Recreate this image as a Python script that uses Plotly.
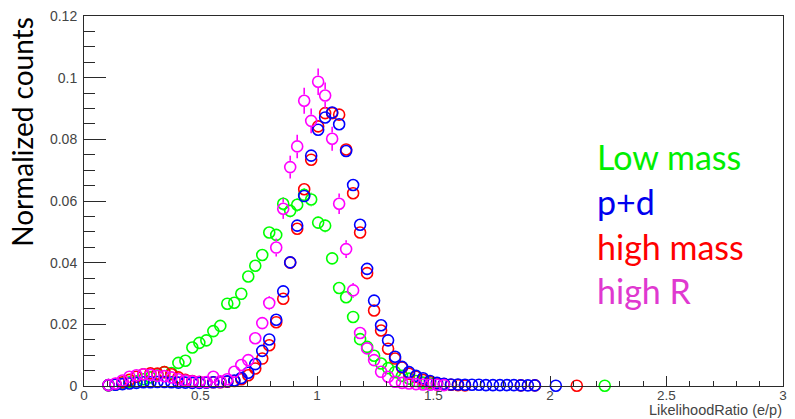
import plotly.graph_objects as go

# ---------------- data ----------------
x_bins = [0.105, 0.135, 0.165, 0.195, 0.225, 0.255, 0.285, 0.315, 0.345, 0.375,
          0.405, 0.435, 0.465, 0.495, 0.525, 0.555, 0.585, 0.615, 0.645, 0.675,
          0.705, 0.735, 0.765, 0.795, 0.825, 0.855, 0.885, 0.915, 0.945, 0.975,
          1.005, 1.035, 1.065, 1.095, 1.125, 1.155, 1.185, 1.215, 1.245, 1.275,
          1.305, 1.335, 1.365, 1.395, 1.425, 1.455, 1.485, 1.515, 1.545]

low_mass_x = x_bins + [2.235]
low_mass_y = [0.0002, 0.0005, 0.0008, 0.0012, 0.0015, 0.0022, 0.0028, 0.0035, 0.0045, 0.0042,
              0.0075, 0.0082, 0.0125, 0.0140, 0.0148, 0.0178, 0.0195, 0.0267, 0.0270, 0.0299,
              0.0355, 0.0390, 0.0425, 0.0498, 0.0490, 0.0591, 0.0568, 0.0588, 0.0620, 0.0605,
              0.0530, 0.0520, 0.0414, 0.0318, 0.0288, 0.0224, 0.0152, 0.0127, 0.0098, 0.0073,
              0.0058, 0.0045, 0.0033, 0.0024, 0.0016, 0.0011, 0.0008, 0.0006, 0.0004,
              0.0001]
low_mass_err = [0.0001, 0.0002, 0.0003, 0.0003, 0.0004, 0.0004, 0.0005, 0.0005, 0.0006, 0.0006,
                0.0008, 0.0008, 0.0010, 0.0011, 0.0011, 0.0012, 0.0013, 0.0015, 0.0015, 0.0016,
                0.0017, 0.0018, 0.0019, 0.0020, 0.0020, 0.0022, 0.0021, 0.0022, 0.0022, 0.0022,
                0.0021, 0.0021, 0.0018, 0.0016, 0.0015, 0.0013, 0.0011, 0.0010, 0.0009, 0.0008,
                0.0007, 0.0006, 0.0005, 0.0004, 0.0004, 0.0003, 0.0003, 0.0002, 0.0002,
                0.0001]

pd_x = x_bins + [1.575, 1.605, 1.635, 1.665, 1.695, 1.725, 1.755, 1.785, 1.815, 1.845,
                 1.875, 1.905, 1.935, 2.025]
pd_y = [0.0003, 0.0004, 0.0006, 0.0008, 0.0010, 0.0012, 0.0012, 0.0013, 0.0013, 0.0012,
        0.0011, 0.0011, 0.0010, 0.0010, 0.0011, 0.0012, 0.0013, 0.0015, 0.0018, 0.0026,
        0.0043, 0.0071, 0.0114, 0.0151, 0.0215, 0.0307, 0.0401, 0.0520, 0.0616, 0.0747,
        0.0831, 0.0871, 0.0887, 0.0849, 0.0762, 0.0652, 0.0523, 0.0380, 0.0277, 0.0197,
        0.0148, 0.0095, 0.0062, 0.0045, 0.0033, 0.0025, 0.0016, 0.0010, 0.0007,
        0.0005, 0.0005, 0.0004, 0.0004, 0.0004, 0.0003, 0.0003, 0.0003, 0.0003, 0.0003,
        0.0002, 0.0002, 0.0002, 0.0001]

high_mass_x = x_bins + [1.575, 1.605, 1.635, 1.875, 1.935, 2.115]
high_mass_y = [0.0003, 0.0006, 0.0012, 0.0020, 0.0030, 0.0038, 0.0041, 0.0040, 0.0045, 0.0038,
               0.0028, 0.0020, 0.0016, 0.0013, 0.0012, 0.0012, 0.0012, 0.0014, 0.0016, 0.0022,
               0.0035, 0.0057, 0.0089, 0.0132, 0.0207, 0.0283, 0.0400, 0.0510, 0.0638, 0.0734,
               0.0842, 0.0885, 0.0885, 0.0880, 0.0767, 0.0625, 0.0498, 0.0366, 0.0245, 0.0180,
               0.0121, 0.0089, 0.0060, 0.0040, 0.0030, 0.0020, 0.0013, 0.0009, 0.0006,
               0.0004, 0.0003, 0.0002, 0.0002, 0.0002, 0.0001]

high_r_x = x_bins
high_r_y = [0.0003, 0.0008, 0.0018, 0.0030, 0.0035, 0.0038, 0.0036, 0.0033, 0.0032, 0.0028,
            0.0022, 0.0018, 0.0015, 0.0014, 0.0013, 0.0030, 0.0015, 0.0022, 0.0046, 0.0068,
            0.0084, 0.0155, 0.0204, 0.0269, 0.0449, 0.0575, 0.0710, 0.0777, 0.0925, 0.0860,
            0.0987, 0.0942, 0.0802, 0.0591, 0.0444, 0.0310, 0.0172, 0.0122, 0.0084, 0.0046,
            0.0030, 0.0014, 0.0010, 0.0008, 0.0006, 0.0005, 0.0004, 0.0004, 0.0003]
high_r_err = [0.0002, 0.0004, 0.0006, 0.0008, 0.0008, 0.0008, 0.0008, 0.0008, 0.0008, 0.0007,
              0.0006, 0.0006, 0.0005, 0.0005, 0.0005, 0.0008, 0.0005, 0.0006, 0.0009, 0.0011,
              0.0013, 0.0017, 0.0020, 0.0023, 0.0029, 0.0033, 0.0037, 0.0038, 0.0042, 0.0040,
              0.0043, 0.0042, 0.0039, 0.0033, 0.0029, 0.0024, 0.0018, 0.0015, 0.0013, 0.0009,
              0.0008, 0.0005, 0.0004, 0.0004, 0.0003, 0.0003, 0.0003, 0.0003, 0.0002]

x_tickvals = [0, 0.5, 1, 1.5, 2, 2.5, 3]
x_ticktext = ["0", "0.5", "1", "1.5", "2", "2.5", "3"]
y_tickvals = [0, 0.02, 0.04, 0.06, 0.08, 0.1, 0.12]
y_ticktext = ["0", "0.02", "0.04", "0.06", "0.08", "0.1", "0.12"]

legend_names = ["Low mass", "p+d", "high mass", "high R"]

# ---------------- style ----------------
W, H = 795, 419
M = dict(l=84, r=8, t=14, b=33)
PLOT_H = H - M["t"] - M["b"]
PLOT_W = W - M["l"] - M["r"]
Y_MAX = 0.12
MSIZE = 11
MLINE = 1.6
GREEN, BLUE, RED, MAGENTA = "#00ff00", "#0000ff", "#ff0000", "#ff00ff"
AXIS_COL = "#2a2a2a"
TICKFONT_Y = dict(family="Liberation Sans, Arial, sans-serif", size=14, color="#444444")
TICKFONT_X = dict(family="Liberation Sans, Arial, sans-serif", size=13.5, color="#444444")

fig = go.Figure()


def err_segments(xs, ys, es):
    """ROOT-style error bars: drawn only outside the hollow marker."""
    r = (MSIZE / 2 + MLINE / 2) / PLOT_H * Y_MAX
    sx, sy = [], []
    for x, y, e in zip(xs, ys, es):
        if e > r:
            sx += [x, x, None, x, x, None]
            sy += [y + r, y + e, None, y - r, y - e, None]
    return sx, sy


def add_series(xs, ys, color, errs=None):
    if errs is not None:
        sx, sy = err_segments(xs, ys, errs)
        fig.add_trace(go.Scatter(x=sx, y=sy, mode="lines", line=dict(color=color, width=1.6),
                                 hoverinfo="skip", showlegend=False, cliponaxis=False))
    fig.add_trace(go.Scatter(
        x=xs, y=ys, mode="markers", showlegend=False, cliponaxis=False,
        marker=dict(symbol="circle-open", size=MSIZE, color=color, line=dict(width=MLINE, color=color)),
    ))


add_series(low_mass_x, low_mass_y, GREEN, low_mass_err)
add_series(high_mass_x, high_mass_y, RED)
add_series(pd_x, pd_y, BLUE)
add_series(high_r_x, high_r_y, MAGENTA, high_r_err)

axis_common = dict(showline=True, linecolor=AXIS_COL, linewidth=1, mirror=True,
                   ticks="inside", tickcolor=AXIS_COL, tickwidth=1,
                   showgrid=False, zeroline=False, fixedrange=True)

fig.update_xaxes(range=[0, 3], tickmode="array", tickvals=x_tickvals, ticktext=x_ticktext,
                 ticklen=10, ticklabelstandoff=-3, tickfont=TICKFONT_X,
                 minor=dict(ticks="inside", ticklen=5, dtick=0.1, tick0=0, tickcolor=AXIS_COL, showgrid=False),
                 **axis_common)
fig.update_yaxes(range=[0, Y_MAX], tickmode="array", tickvals=y_tickvals, ticktext=y_ticktext,
                 ticklen=22, ticklabelstandoff=3, tickfont=TICKFONT_Y,
                 minor=dict(ticks="inside", ticklen=11, dtick=0.005, tick0=0, tickcolor=AXIS_COL, showgrid=False),
                 **axis_common)

annotations = [
    dict(text="LikelihoodRatio (e/p)", xref="paper", yref="paper", x=1.0, y=(H - M["b"] - 419) / PLOT_H,
         xanchor="right", yanchor="bottom", showarrow=False, borderpad=0,
         font=dict(family="Liberation Sans, Arial, sans-serif", size=14.5, color="#444444")),
    dict(text="Normalized counts", xref="paper", yref="paper", x=(22 - M["l"]) / PLOT_W,
         y=(H - M["b"] - 130) / PLOT_H, xanchor="center", yanchor="middle", textangle=-90, showarrow=False,
         font=dict(family="Lato, Open Sans, sans-serif", size=28, color="#000000")),
]
legend_colors = ["#00ee00", "#0000ee", "#ff0000", "#e038d0"]
legend_ypx = [155, 201, 246, 290]
for name, col, ypx in zip(legend_names, legend_colors, legend_ypx):
    annotations.append(dict(
        text=name, xref="paper", yref="paper", x=(598 - M["l"]) / PLOT_W,
        y=(H - M["b"] - ypx) / PLOT_H, xanchor="left", yanchor="middle", showarrow=False,
        font=dict(family="Lato, Open Sans, sans-serif", size=34, color=col)))

fig.update_layout(width=W, height=H, margin=M, autosize=False,
                  paper_bgcolor="white", plot_bgcolor="white",
                  annotations=annotations, showlegend=False)

fig.write_html("out.html")
